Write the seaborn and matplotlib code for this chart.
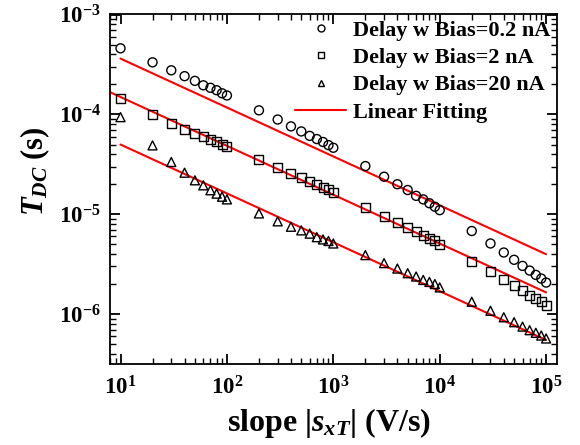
import numpy as np
import pandas as pd
import matplotlib
matplotlib.use("Agg")
import matplotlib.pyplot as plt
from matplotlib.lines import Line2D
from matplotlib.ticker import LogLocator, FuncFormatter, NullFormatter
import seaborn as sns

# ---------------- data ----------------
slope = [10, 20, 30, 40, 50, 60, 70, 80, 90, 100,
         200, 300, 400, 500, 600, 700, 800, 900, 1000,
         2000, 3000, 4000, 5000, 6000, 7000, 8000, 9000, 10000,
         20000, 30000, 40000, 50000, 60000, 70000, 80000, 90000, 100000]

delay_0p2nA = [4.6e-4, 3.33e-4, 2.77e-4, 2.42e-4, 2.17e-4, 1.96e-4, 1.85e-4, 1.75e-4, 1.63e-4, 1.55e-4,
               1.10e-4, 8.9e-5, 7.6e-5, 6.76e-5, 6.1e-5, 5.67e-5, 5.3e-5, 4.93e-5, 4.64e-5,
               3.04e-5, 2.38e-5, 2.0e-5, 1.75e-5, 1.53e-5, 1.41e-5, 1.29e-5, 1.19e-5, 1.10e-5,
               6.8e-6, 5.1e-6, 4.14e-6, 3.5e-6, 3.04e-6, 2.73e-6, 2.47e-6, 2.27e-6, 2.07e-6]

delay_2nA = [1.45e-4, 9.9e-5, 8.1e-5, 7.1e-5, 6.5e-5, 6.0e-5, 5.6e-5, 5.3e-5, 5.05e-5, 4.8e-5,
             3.52e-5, 2.93e-5, 2.57e-5, 2.36e-5, 2.12e-5, 1.98e-5, 1.86e-5, 1.77e-5, 1.67e-5,
             1.18e-5, 9.6e-6, 8.3e-6, 7.4e-6, 6.7e-6, 6.2e-6, 5.7e-6, 5.4e-6, 5.0e-6,
             3.34e-6, 2.65e-6, 2.2e-6, 1.92e-6, 1.71e-6, 1.55e-6, 1.43e-6, 1.33e-6, 1.21e-6]

delay_20nA = [9.4e-5, 4.9e-5, 3.34e-5, 2.61e-5, 2.19e-5, 1.95e-5, 1.74e-5, 1.61e-5, 1.50e-5, 1.41e-5,
              1.02e-5, 8.5e-6, 7.5e-6, 6.9e-6, 6.4e-6, 5.9e-6, 5.6e-6, 5.4e-6, 5.1e-6,
              3.9e-6, 3.24e-6, 2.86e-6, 2.57e-6, 2.38e-6, 2.2e-6, 2.1e-6, 2.0e-6, 1.85e-6,
              1.33e-6, 1.08e-6, 9.3e-7, 8.3e-7, 7.5e-7, 6.9e-7, 6.5e-7, 6.1e-7, 5.7e-7]

series_labels = ["Delay w Bias=0.2 nA", "Delay w Bias=2 nA", "Delay w Bias=20 nA"]
series_markers = ["o", "s", "^"]
fit_label = "Linear Fitting"

# linear fitting (in log-log) end points
fit_x_start = [10, 8, 10]
fit_x_end = [1e5, 1e5, 1e5]
fit_y_start = [3.63e-4, 1.67e-4, 5.0e-5]
fit_y_end = [3.98e-6, 1.65e-6, 5.5e-7]

# ---------------- style ----------------
sns.set_theme(style="ticks")
plt.rcParams.update({
    "font.family": ["Liberation Serif", "DejaVu Serif"],
    "font.weight": "bold",
    "mathtext.fontset": "custom",
    "mathtext.rm": "Liberation Serif:bold",
    "mathtext.bf": "Liberation Serif:bold",
    "mathtext.it": "Liberation Serif:italic:bold",
    "axes.linewidth": 1.3,
    "axes.edgecolor": "black",
    "text.color": "black",
    "axes.labelcolor": "black",
    "xtick.color": "black",
    "ytick.color": "black",
})

fig = plt.figure(figsize=(5.8, 4.45), dpi=100)
ax = fig.add_axes([0.19, 0.182, 0.770, 0.787])

all_series = [delay_0p2nA, delay_2nA, delay_20nA]
for vals, lab, mk in zip(all_series, series_labels, series_markers):
    df = pd.DataFrame({"slope": slope, "delay": vals})
    sns.scatterplot(data=df, x="slope", y="delay", marker=mk, s=42,
                    color="black", facecolor="none", edgecolor="black",
                    linewidth=1.0, ax=ax, legend=False, zorder=3)

for xs, xe, ys, ye in zip(fit_x_start, fit_x_end, fit_y_start, fit_y_end):
    dfl = pd.DataFrame({"x": [xs, xe], "y": [ys, ye]})
    sns.lineplot(data=dfl, x="x", y="y", color="red", linewidth=1.5, ax=ax,
                 legend=False, zorder=2)

ax.set_xscale("log")
ax.set_yscale("log")
ax.set_xlim(8.0, 1.26e5)
ax.set_ylim(10 ** -6.5, 1.02e-3)

ax.xaxis.set_major_locator(LogLocator(base=10, numticks=10))
ax.xaxis.set_minor_locator(LogLocator(base=10, subs=np.arange(2, 10), numticks=20))
ax.yaxis.set_major_locator(LogLocator(base=10, numticks=10))
ax.yaxis.set_minor_locator(LogLocator(base=10, subs=np.arange(2, 10), numticks=20))
fmt = FuncFormatter(lambda v, p: r"$\mathbf{10^{%d}}$" % int(round(np.log10(v))))
ax.xaxis.set_major_formatter(fmt)
ax.yaxis.set_major_formatter(fmt)
ax.xaxis.set_minor_formatter(NullFormatter())
ax.yaxis.set_minor_formatter(NullFormatter())

ax.tick_params(which="both", direction="in", top=True, right=True,
               colors="black", labelsize=16.5)
ax.tick_params(which="major", length=7, width=1.3)
ax.tick_params(which="minor", length=4, width=1.0)
ax.tick_params(axis="x", which="major", pad=9)
ax.tick_params(axis="y", which="major", pad=7)

ax.set_xlabel(r"slope |$s_{xT}$| (V/s)", fontsize=23, fontweight="bold")
ax.xaxis.set_label_coords(0.49, -0.12)
ax.set_ylabel(r"$T_{DC}$ (s)", fontsize=22, fontweight="bold")
ax.yaxis.set_label_coords(-0.13, 0.55)

handles = [Line2D([], [], linestyle="none", marker=mk, markersize=5,
                  markerfacecolor="none", markeredgecolor="black", markeredgewidth=1.0)
           for mk in series_markers]
handles.append(Line2D([], [], color="red", linewidth=1.5))
ax.legend(handles, series_labels + [fit_label], loc="upper right", frameon=False,
          prop={"family": "Liberation Serif", "weight": "bold", "size": 16},
          handlelength=2.3, handletextpad=0.3, labelspacing=0.3,
          borderaxespad=0.1, borderpad=0.2)

fig.savefig("out.png", dpi=100)
